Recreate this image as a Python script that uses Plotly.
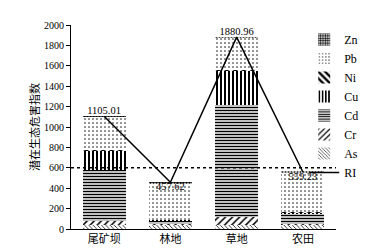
import plotly.graph_objects as go

categories = ["尾矿坝", "林地", "草地", "农田"]
As = [40, 40, 40, 40]
Cr = [35, 10, 75, 10]
Cd = [500, 35, 1105, 100]
Cu = [190, 5, 335, 10]
Ni = [5, 3, 5, 5]
Pb = [330, 355, 315, 390]
Zn = [5.01, 9.62, 5.96, 4.23]
RI = [1105.01, 457.62, 1880.96, 559.23]
threshold = 600
y_ticks = [0, 200, 400, 600, 800, 1000, 1200, 1400, 1600, 1800, 2000]
y_title = "潜在生态危害指数"

FONT = "Liberation Serif, Noto Sans CJK SC, serif"

series = [
    ("As", As, dict(shape="\\", size=3, solidity=0.25), 7),
    ("Cr", Cr, dict(shape="/", size=5, solidity=0.3), 6),
    ("Cd", Cd, dict(shape="-", size=3, solidity=0.5), 5),
    ("Cu", Cu, dict(shape="|", size=4, solidity=0.5), 4),
    ("Ni", Ni, dict(shape="\\", size=6, solidity=0.5), 3),
    ("Pb", Pb, dict(shape=".", size=4, solidity=0.12), 2),
    ("Zn", Zn, dict(shape=".", size=3, solidity=0.55), 1),
]

fig = go.Figure()
for name, vals, pat, rank in series:
    fig.add_trace(go.Bar(
        x=categories, y=vals, name=name, legendrank=rank,
        marker=dict(color="white", line=dict(width=0),
                    pattern=dict(fgcolor="black", bgcolor="white", fillmode="replace", **pat)),
    ))

fig.add_trace(go.Scatter(
    x=categories, y=RI, name="RI", legendrank=8, mode="lines+text",
    line=dict(color="black", width=1.5),
    text=[f"{v:.2f}" for v in RI],
    textposition=["top center", "bottom center", "top center", "bottom center"],
    textfont=dict(family=FONT, size=10.5, color="black"),
    cliponaxis=False,
))

fig.add_shape(type="line", xref="paper", yref="y", x0=0, x1=1, y0=threshold, y1=threshold,
              line=dict(color="black", width=1.5, dash="dot"), layer="above")

fig.add_annotation(text=y_title, xref="paper", yref="paper", x=-0.14, y=0.5,
                   xanchor="center", yanchor="middle", textangle=-90, showarrow=False,
                   font=dict(family=FONT, size=11, color="black"))

fig.update_layout(
    width=368, height=249,
    margin=dict(l=63, r=23, t=17, b=28),
    plot_bgcolor="white", paper_bgcolor="white",
    barmode="stack", bargap=0.35,
    font=dict(family=FONT, size=11, color="black"),
    showlegend=True,
    legend=dict(traceorder="normal", x=0.88, xanchor="left", y=1.0, yanchor="top",
                bgcolor="rgba(0,0,0,0)", font=dict(family=FONT, size=12),
                itemwidth=30, tracegroupgap=0),
    xaxis=dict(showline=True, linecolor="black", linewidth=1, ticks="", showgrid=False,
               range=[-0.5, 3.5], tickfont=dict(family=FONT, size=11)),
    yaxis=dict(showline=True, linecolor="black", linewidth=1, ticks="outside", ticklen=4,
               tickcolor="black", showgrid=False, zeroline=False, range=[0, 2000],
               tickvals=y_ticks, tickfont=dict(family=FONT, size=10)),
)

fig.write_html("out.html")
